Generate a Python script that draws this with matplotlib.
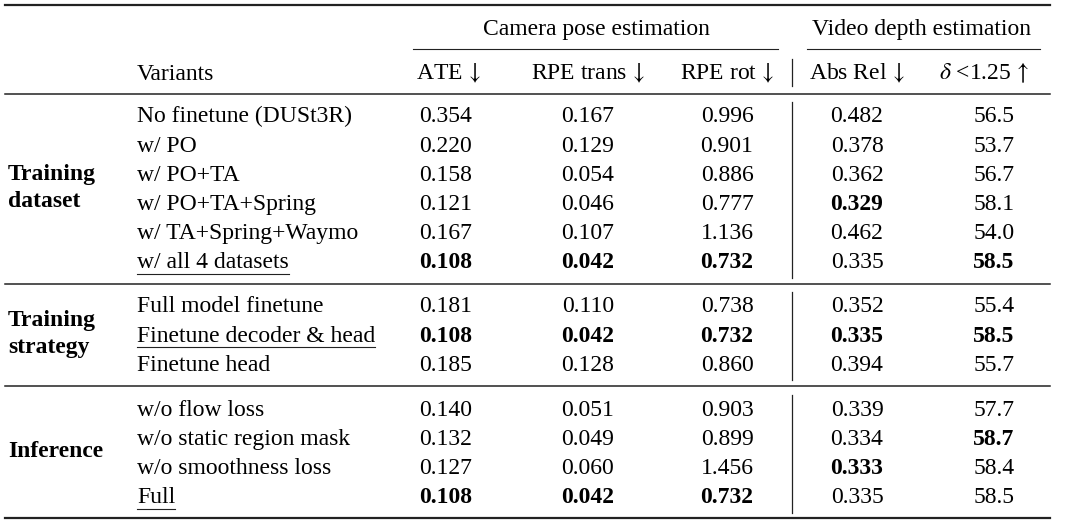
import matplotlib
matplotlib.use("Agg")
import matplotlib.pyplot as plt

plt.rcParams['font.family'] = ['Liberation Serif', 'DejaVu Serif']
plt.rcParams['mathtext.fontset'] = 'stix'

# table content
groups = ["Training\ndataset", "Training\nstrategy", "Inference"]
group_sizes = [6, 3, 4]
variants = ["No finetune (DUSt3R)", "w/ PO", "w/ PO+TA", "w/ PO+TA+Spring",
            "w/ TA+Spring+Waymo", "w/ all 4 datasets",
            "Full model finetune", "Finetune decoder & head", "Finetune head",
            "w/o flow loss", "w/o static region mask", "w/o smoothness loss", "Full"]
underlined = [5, 7, 12]
ate = ["0.354", "0.220", "0.158", "0.121", "0.167", "0.108",
       "0.181", "0.108", "0.185",
       "0.140", "0.132", "0.127", "0.108"]
rpe_trans = ["0.167", "0.129", "0.054", "0.046", "0.107", "0.042",
             "0.110", "0.042", "0.128",
             "0.051", "0.049", "0.060", "0.042"]
rpe_rot = ["0.996", "0.901", "0.886", "0.777", "1.136", "0.732",
           "0.738", "0.732", "0.860",
           "0.903", "0.899", "1.456", "0.732"]
abs_rel = ["0.482", "0.378", "0.362", "0.329", "0.462", "0.335",
           "0.352", "0.335", "0.394",
           "0.339", "0.334", "0.333", "0.335"]
delta = ["56.5", "53.7", "56.7", "58.1", "54.0", "58.5",
         "55.4", "58.5", "55.7",
         "57.7", "58.7", "58.4", "58.5"]
# bold (best) entries per column, as row indices
bold_ate = [5, 7, 12]
bold_trans = [5, 7, 12]
bold_rot = [5, 7, 12]
bold_abs = [3, 7, 11]
bold_delta = [5, 7, 10]
headers = ["ATE$\\,\\downarrow$", "RPE trans$\\,\\downarrow$", "RPE rot$\\,\\downarrow$",
           "Abs Rel$\\,\\downarrow$", "$\\delta$ <1.25$\\,\\uparrow$"]

W, H = 1080, 526
fig = plt.figure(figsize=(W / 100, H / 100), dpi=100)
ax = fig.add_axes([0, 0, 1, 1])
ax.set_xlim(0, W)
ax.set_ylim(H, 0)
ax.axis('off')

fs = 17
col_x = [446, 588, 727, 857, 994]
head_x = [448, 588, 727, 857, 984]
var_x = 137
grp_x = 8
base_off = 7.5
lc = '#222222'

# rules
ax.plot([5, 1050], [5, 5], color=lc, lw=1.6)
ax.plot([413, 778], [49, 49], color=lc, lw=0.8)
ax.plot([807, 1040], [49, 49], color=lc, lw=0.8)
for yy in [94, 284, 386]:
    ax.plot([5, 1050], [yy, yy], color=lc, lw=1.1)
ax.plot([5, 1050], [518, 518], color=lc, lw=1.6)

ax.text(596, 28 + base_off, "Camera pose estimation", fontsize=fs, ha='center', va='baseline')
ax.text(922, 28 + base_off, "Video depth estimation", fontsize=fs, ha='center', va='baseline')
ax.text(var_x, 72 + base_off, "Variants", fontsize=fs, ha='left', va='baseline')
for hx, h in zip(head_x, headers):
    ax.text(hx, 72 + base_off, h, fontsize=fs, ha='center', va='baseline')
ax.plot([792, 792], [59, 86], color=lc, lw=0.9)

firsts = [115, 305, 408]
row_h = 29.2
cols = [(ate, bold_ate), (rpe_trans, bold_trans), (rpe_rot, bold_rot),
        (abs_rel, bold_abs), (delta, bold_delta)]
renderer = fig.canvas.get_renderer()
inv = ax.transData.inverted()
r = 0
for g, (name, n) in enumerate(zip(groups, group_sizes)):
    ys = [firsts[g] + k * row_h for k in range(n)]
    ax.text(grp_x, (ys[0] + ys[-1]) / 2, name, fontsize=fs, fontweight='bold',
            ha='left', va='center', linespacing=1.35)
    ax.plot([792, 792], [ys[0] - 13, ys[-1] + 17], color=lc, lw=0.9)
    for y in ys:
        t = ax.text(var_x, y + base_off, variants[r], fontsize=fs, ha='left', va='baseline')
        if r in underlined:
            bb = t.get_window_extent(renderer)
            x0, _ = inv.transform((bb.x0, bb.y0))
            x1, _ = inv.transform((bb.x1, bb.y0))
            ax.plot([x0, x1], [y + 13, y + 13], color=lc, lw=0.8)
        for cx, (vals, bolds) in zip(col_x, cols):
            ax.text(cx, y + base_off, vals[r], fontsize=fs, ha='center', va='baseline',
                    fontweight='bold' if r in bolds else 'normal')
        r += 1

fig.savefig("out.png", dpi=100, facecolor='white')
